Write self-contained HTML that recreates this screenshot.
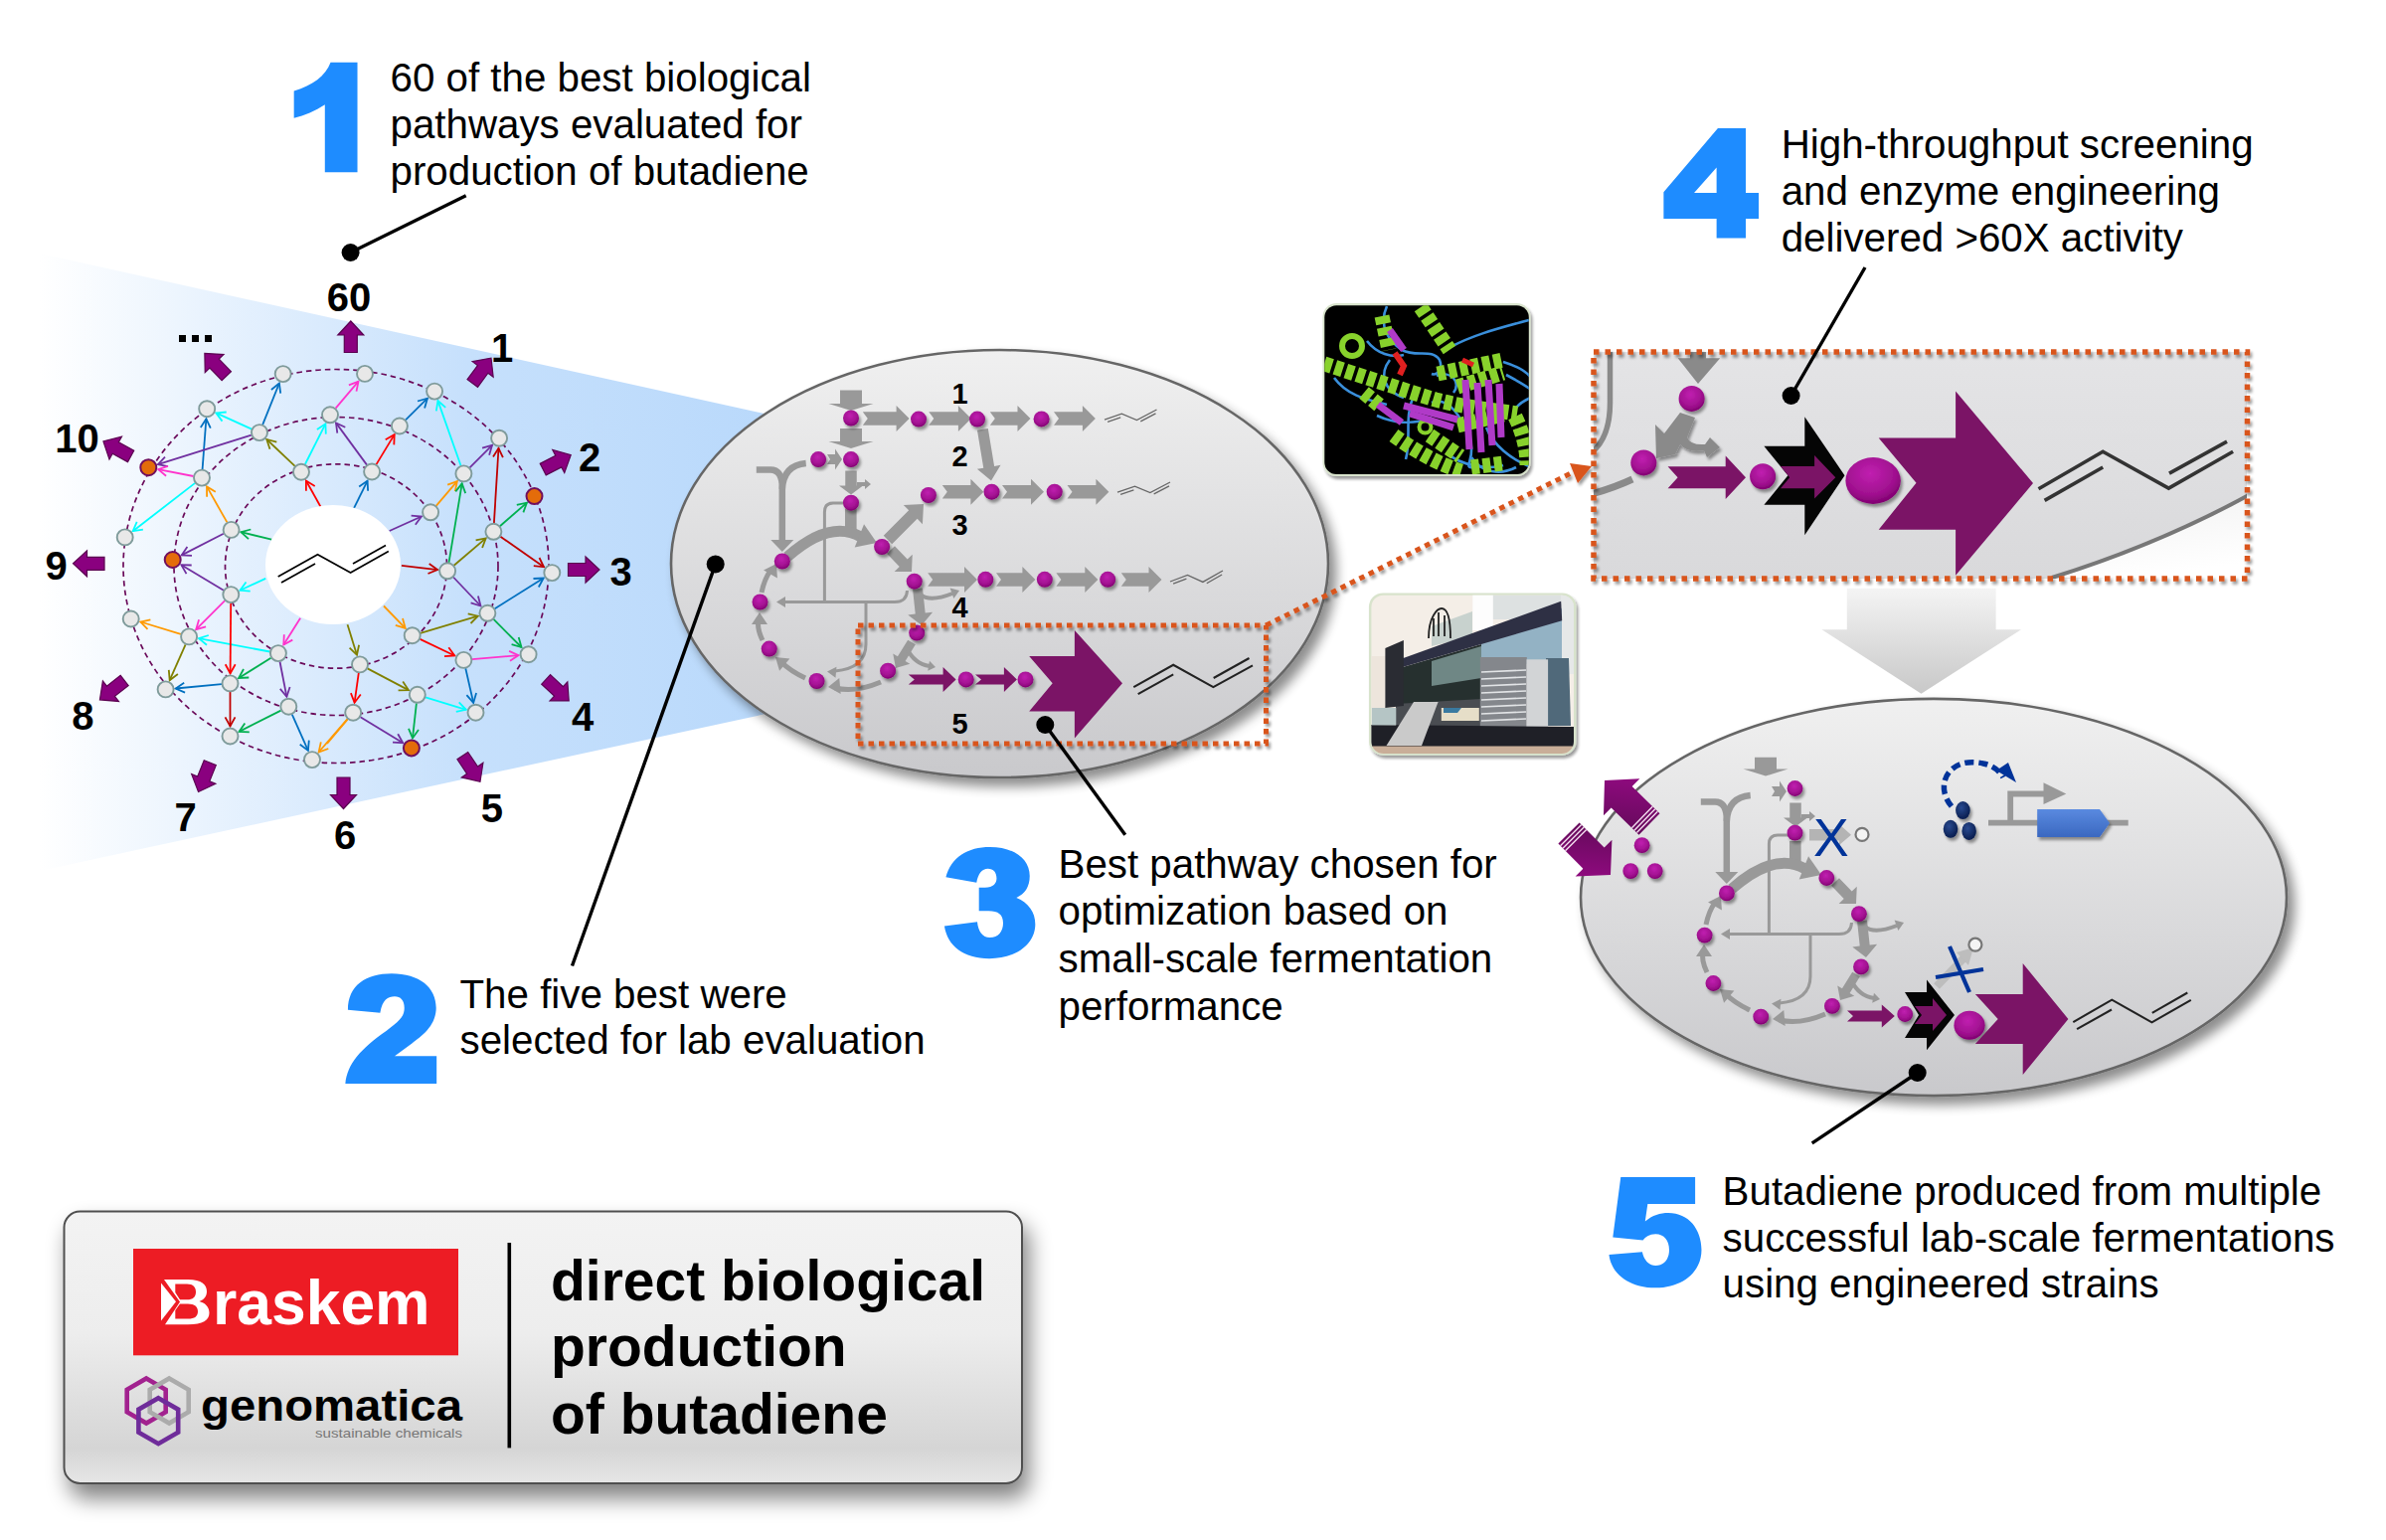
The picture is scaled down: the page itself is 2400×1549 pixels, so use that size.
<!DOCTYPE html>
<html><head><meta charset="utf-8"><style>
html,body{margin:0;padding:0;background:#fff;overflow:hidden;}
svg{display:block;}
.tx{font-family:"Liberation Sans",sans-serif;font-size:40.3px;fill:#000;}
.tt{font-family:"Liberation Sans",sans-serif;font-size:57px;font-weight:bold;fill:#000;}
.lb{font-family:"Liberation Sans",sans-serif;font-size:40px;font-weight:bold;fill:#000;}
.pl{font-family:"Liberation Sans",sans-serif;font-size:24px;font-weight:bold;fill:#000;}
</style></head><body>
<svg width="2400" height="1549" viewBox="0 0 2400 1549">
<defs>
<linearGradient id="wedge" x1="40" y1="0" x2="900" y2="0" gradientUnits="userSpaceOnUse">
<stop offset="0" stop-color="#FFFFFF"/><stop offset="0.5" stop-color="#C6E0FC"/><stop offset="1" stop-color="#B4D6FB"/></linearGradient>
<linearGradient id="ell" x1="0" y1="0" x2="0" y2="1">
<stop offset="0" stop-color="#F0F0F0"/><stop offset="1" stop-color="#C9C9CC"/></linearGradient>
<linearGradient id="box" x1="0" y1="0" x2="0" y2="1">
<stop offset="0" stop-color="#F3F3F3"/><stop offset="0.45" stop-color="#EDEDED"/><stop offset="0.87" stop-color="#D5D5D5"/><stop offset="1" stop-color="#E6E6E6"/></linearGradient>
<filter id="shd" x="-10%" y="-10%" width="130%" height="140%"><feGaussianBlur in="SourceAlpha" stdDeviation="6"/><feOffset dx="7" dy="8"/><feComponentTransfer><feFuncA type="linear" slope="0.45"/></feComponentTransfer><feMerge><feMergeNode/><feMergeNode in="SourceGraphic"/></feMerge></filter>
<filter id="dsh" x="-30%" y="-30%" width="160%" height="160%"><feGaussianBlur in="SourceAlpha" stdDeviation="1.5"/><feOffset dx="2" dy="3"/><feComponentTransfer><feFuncA type="linear" slope="0.4"/></feComponentTransfer><feMerge><feMergeNode/><feMergeNode in="SourceGraphic"/></feMerge></filter>
<filter id="shd2" x="-10%" y="-15%" width="130%" height="150%"><feGaussianBlur in="SourceAlpha" stdDeviation="11"/><feOffset dx="6" dy="14"/><feComponentTransfer><feFuncA type="linear" slope="0.5"/></feComponentTransfer><feMerge><feMergeNode/><feMergeNode in="SourceGraphic"/></feMerge></filter>
<radialGradient id="mag" cx="0.45" cy="0.35" r="0.65"><stop offset="0" stop-color="#C020B0"/><stop offset="0.7" stop-color="#A0108F"/><stop offset="1" stop-color="#800070"/></radialGradient>
</defs>
<polygon points="40,255 900,445 900,690 40,876" fill="url(#wedge)"/>
<ellipse cx="338" cy="569.5" rx="214" ry="198" fill="none" stroke="#6A0A5A" stroke-width="1.7" stroke-dasharray="5.5 4"/>
<ellipse cx="338" cy="569.5" rx="163" ry="150" fill="none" stroke="#6A0A5A" stroke-width="1.7" stroke-dasharray="5.5 4"/>
<ellipse cx="338" cy="569.5" rx="111.5" ry="102.7" fill="none" stroke="#6A0A5A" stroke-width="1.7" stroke-dasharray="5.5 4"/>
<line x1="264.2" y1="427.1" x2="280.9" y2="385.5" stroke="#0070C0" stroke-width="1.8"/>
<polyline points="282.2,395.7 280.9,385.5 272.9,392.0" fill="none" stroke="#0070C0" stroke-width="1.8"/>
<line x1="337.6" y1="410.7" x2="360.5" y2="383.6" stroke="#FF33CC" stroke-width="1.8"/>
<polyline points="358.5,393.7 360.5,383.6 350.9,387.3" fill="none" stroke="#FF33CC" stroke-width="1.8"/>
<line x1="408.0" y1="422.4" x2="429.9" y2="400.7" stroke="#0070C0" stroke-width="1.8"/>
<polyline points="427.1,410.6 429.9,400.7 420.0,403.5" fill="none" stroke="#0070C0" stroke-width="1.8"/>
<line x1="463.5" y1="468.3" x2="440.5" y2="403.1" stroke="#00FFFF" stroke-width="1.8"/>
<polyline points="448.2,409.9 440.5,403.1 438.8,413.3" fill="none" stroke="#00FFFF" stroke-width="1.8"/>
<line x1="253.2" y1="431.6" x2="217.4" y2="415.4" stroke="#00FFFF" stroke-width="1.8"/>
<polyline points="227.7,414.5 217.4,415.4 223.5,423.6" fill="none" stroke="#00FFFF" stroke-width="1.8"/>
<line x1="203.6" y1="472.0" x2="207.4" y2="421.3" stroke="#0070C0" stroke-width="1.8"/>
<polyline points="211.8,430.6 207.4,421.3 201.8,429.9" fill="none" stroke="#0070C0" stroke-width="1.8"/>
<line x1="369.0" y1="467.6" x2="338.0" y2="425.4" stroke="#7030A0" stroke-width="1.8"/>
<polyline points="347.3,429.7 338.0,425.4 339.3,435.6" fill="none" stroke="#7030A0" stroke-width="1.8"/>
<line x1="378.5" y1="467.1" x2="396.7" y2="437.1" stroke="#FF0000" stroke-width="1.8"/>
<polyline points="396.3,447.4 396.7,437.1 387.7,442.3" fill="none" stroke="#FF0000" stroke-width="1.8"/>
<line x1="296.7" y1="468.8" x2="268.3" y2="442.0" stroke="#808000" stroke-width="1.8"/>
<polyline points="278.3,444.6 268.3,442.0 271.5,451.8" fill="none" stroke="#808000" stroke-width="1.8"/>
<line x1="472.5" y1="470.3" x2="495.0" y2="447.8" stroke="#7030A0" stroke-width="1.8"/>
<polyline points="492.1,457.7 495.0,447.8 485.1,450.7" fill="none" stroke="#7030A0" stroke-width="1.8"/>
<line x1="496.9" y1="526.2" x2="501.5" y2="450.8" stroke="#C00000" stroke-width="1.8"/>
<polyline points="505.9,460.1 501.5,450.8 496.0,459.5" fill="none" stroke="#C00000" stroke-width="1.8"/>
<line x1="252.8" y1="437.7" x2="158.9" y2="467.2" stroke="#7030A0" stroke-width="1.8"/>
<polyline points="166.0,459.7 158.9,467.2 169.0,469.2" fill="none" stroke="#7030A0" stroke-width="1.8"/>
<line x1="194.6" y1="479.0" x2="159.2" y2="472.1" stroke="#FF33CC" stroke-width="1.8"/>
<polyline points="169.0,468.9 159.2,472.1 167.1,478.7" fill="none" stroke="#FF33CC" stroke-width="1.8"/>
<line x1="228.4" y1="525.4" x2="208.0" y2="489.4" stroke="#FF9900" stroke-width="1.8"/>
<polyline points="216.8,494.8 208.0,489.4 208.1,499.7" fill="none" stroke="#FF9900" stroke-width="1.8"/>
<line x1="306.9" y1="467.0" x2="327.4" y2="426.3" stroke="#00FFFF" stroke-width="1.8"/>
<polyline points="327.8,436.6 327.4,426.3 318.9,432.1" fill="none" stroke="#00FFFF" stroke-width="1.8"/>
<line x1="322.5" y1="509.7" x2="307.9" y2="483.5" stroke="#FF0000" stroke-width="1.8"/>
<polyline points="316.7,489.0 307.9,483.5 307.9,493.8" fill="none" stroke="#FF0000" stroke-width="1.8"/>
<line x1="356.0" y1="511.2" x2="369.6" y2="483.6" stroke="#0070C0" stroke-width="1.8"/>
<polyline points="370.1,493.8 369.6,483.6 361.2,489.4" fill="none" stroke="#0070C0" stroke-width="1.8"/>
<line x1="438.7" y1="508.8" x2="459.8" y2="484.1" stroke="#FF9900" stroke-width="1.8"/>
<polyline points="457.8,494.2 459.8,484.1 450.2,487.7" fill="none" stroke="#FF9900" stroke-width="1.8"/>
<line x1="451.5" y1="565.8" x2="464.7" y2="486.4" stroke="#00B050" stroke-width="1.8"/>
<polyline points="468.2,496.1 464.7,486.4 458.3,494.4" fill="none" stroke="#00B050" stroke-width="1.8"/>
<line x1="502.9" y1="529.2" x2="529.9" y2="505.7" stroke="#00B050" stroke-width="1.8"/>
<polyline points="526.4,515.4 529.9,505.7 519.8,507.9" fill="none" stroke="#00B050" stroke-width="1.8"/>
<line x1="391.7" y1="534.0" x2="423.9" y2="519.5" stroke="#7030A0" stroke-width="1.8"/>
<polyline points="417.8,527.7 423.9,519.5 413.6,518.6" fill="none" stroke="#7030A0" stroke-width="1.8"/>
<line x1="456.6" y1="568.7" x2="488.7" y2="541.4" stroke="#808000" stroke-width="1.8"/>
<polyline points="485.1,551.0 488.7,541.4 478.6,543.4" fill="none" stroke="#808000" stroke-width="1.8"/>
<line x1="196.2" y1="485.9" x2="133.7" y2="534.2" stroke="#00FFFF" stroke-width="1.8"/>
<polyline points="137.7,524.8 133.7,534.2 143.9,532.7" fill="none" stroke="#00FFFF" stroke-width="1.8"/>
<line x1="273.2" y1="542.6" x2="242.4" y2="535.2" stroke="#00B050" stroke-width="1.8"/>
<polyline points="252.3,532.5 242.4,535.2 250.0,542.2" fill="none" stroke="#00B050" stroke-width="1.8"/>
<line x1="224.9" y1="536.8" x2="182.7" y2="558.4" stroke="#7030A0" stroke-width="1.8"/>
<polyline points="188.4,549.9 182.7,558.4 193.0,558.8" fill="none" stroke="#7030A0" stroke-width="1.8"/>
<line x1="224.9" y1="593.7" x2="182.4" y2="568.2" stroke="#7030A0" stroke-width="1.8"/>
<polyline points="192.7,568.5 182.4,568.2 187.5,577.1" fill="none" stroke="#7030A0" stroke-width="1.8"/>
<line x1="403.9" y1="568.9" x2="440.1" y2="573.1" stroke="#C00000" stroke-width="1.8"/>
<polyline points="430.5,577.0 440.1,573.1 431.7,567.1" fill="none" stroke="#C00000" stroke-width="1.8"/>
<line x1="503.4" y1="539.7" x2="547.0" y2="570.3" stroke="#C00000" stroke-width="1.8"/>
<polyline points="536.8,569.2 547.0,570.3 542.5,561.0" fill="none" stroke="#C00000" stroke-width="1.8"/>
<line x1="497.7" y1="612.2" x2="546.7" y2="581.5" stroke="#0070C0" stroke-width="1.8"/>
<polyline points="541.8,590.5 546.7,581.5 536.5,582.0" fill="none" stroke="#0070C0" stroke-width="1.8"/>
<line x1="267.2" y1="581.9" x2="241.5" y2="593.8" stroke="#00FFFF" stroke-width="1.8"/>
<polyline points="247.5,585.5 241.5,593.8 251.7,594.6" fill="none" stroke="#00FFFF" stroke-width="1.8"/>
<line x1="456.0" y1="580.5" x2="483.5" y2="609.5" stroke="#7030A0" stroke-width="1.8"/>
<polyline points="473.6,606.4 483.5,609.5 480.9,599.5" fill="none" stroke="#7030A0" stroke-width="1.8"/>
<line x1="422.9" y1="636.8" x2="480.7" y2="619.7" stroke="#808000" stroke-width="1.8"/>
<polyline points="473.5,627.0 480.7,619.7 470.7,617.4" fill="none" stroke="#808000" stroke-width="1.8"/>
<line x1="181.9" y1="637.9" x2="141.4" y2="625.5" stroke="#FF9900" stroke-width="1.8"/>
<polyline points="151.4,623.3 141.4,625.5 148.5,632.9" fill="none" stroke="#FF9900" stroke-width="1.8"/>
<line x1="386.0" y1="609.5" x2="407.7" y2="631.9" stroke="#FF9900" stroke-width="1.8"/>
<polyline points="397.8,628.9 407.7,631.9 405.0,622.0" fill="none" stroke="#FF9900" stroke-width="1.8"/>
<line x1="226.2" y1="604.2" x2="197.2" y2="633.2" stroke="#FF33CC" stroke-width="1.8"/>
<polyline points="200.1,623.3 197.2,633.2 207.1,630.4" fill="none" stroke="#FF33CC" stroke-width="1.8"/>
<line x1="271.4" y1="655.5" x2="200.0" y2="642.2" stroke="#00FFFF" stroke-width="1.8"/>
<polyline points="209.8,639.0 200.0,642.2 208.0,648.8" fill="none" stroke="#00FFFF" stroke-width="1.8"/>
<line x1="302.1" y1="621.7" x2="285.3" y2="648.5" stroke="#FF33CC" stroke-width="1.8"/>
<polyline points="285.8,638.3 285.3,648.5 294.3,643.6" fill="none" stroke="#FF33CC" stroke-width="1.8"/>
<line x1="496.5" y1="622.9" x2="524.5" y2="651.0" stroke="#00B050" stroke-width="1.8"/>
<polyline points="514.6,648.2 524.5,651.0 521.7,641.1" fill="none" stroke="#00B050" stroke-width="1.8"/>
<line x1="475.0" y1="663.2" x2="521.5" y2="659.1" stroke="#FF33CC" stroke-width="1.8"/>
<polyline points="513.0,664.8 521.5,659.1 512.1,654.9" fill="none" stroke="#FF33CC" stroke-width="1.8"/>
<line x1="422.5" y1="642.9" x2="457.3" y2="659.5" stroke="#FF0000" stroke-width="1.8"/>
<polyline points="447.0,660.2 457.3,659.5 451.3,651.2" fill="none" stroke="#FF0000" stroke-width="1.8"/>
<line x1="349.5" y1="628.2" x2="359.0" y2="658.8" stroke="#808000" stroke-width="1.8"/>
<polyline points="351.6,651.6 359.0,658.8 361.1,648.7" fill="none" stroke="#808000" stroke-width="1.8"/>
<line x1="232.2" y1="606.7" x2="231.6" y2="677.3" stroke="#FF0000" stroke-width="1.8"/>
<polyline points="226.7,668.3 231.6,677.3 236.7,668.3" fill="none" stroke="#FF0000" stroke-width="1.8"/>
<line x1="272.6" y1="661.7" x2="240.1" y2="682.0" stroke="#00B050" stroke-width="1.8"/>
<polyline points="245.0,673.0 240.1,682.0 250.3,681.5" fill="none" stroke="#00B050" stroke-width="1.8"/>
<line x1="186.6" y1="648.3" x2="170.7" y2="684.2" stroke="#808000" stroke-width="1.8"/>
<polyline points="169.8,673.9 170.7,684.2 178.9,678.0" fill="none" stroke="#808000" stroke-width="1.8"/>
<line x1="222.9" y1="688.2" x2="176.7" y2="692.5" stroke="#0070C0" stroke-width="1.8"/>
<polyline points="185.2,686.7 176.7,692.5 186.1,696.6" fill="none" stroke="#0070C0" stroke-width="1.8"/>
<line x1="369.6" y1="672.4" x2="410.9" y2="694.1" stroke="#808000" stroke-width="1.8"/>
<polyline points="400.6,694.3 410.9,694.1 405.2,685.5" fill="none" stroke="#808000" stroke-width="1.8"/>
<line x1="281.5" y1="665.5" x2="288.4" y2="700.8" stroke="#7030A0" stroke-width="1.8"/>
<polyline points="281.8,692.9 288.4,700.8 291.6,691.0" fill="none" stroke="#7030A0" stroke-width="1.8"/>
<line x1="360.8" y1="676.9" x2="356.6" y2="706.7" stroke="#FF0000" stroke-width="1.8"/>
<polyline points="352.9,697.1 356.6,706.7 362.8,698.5" fill="none" stroke="#FF0000" stroke-width="1.8"/>
<line x1="468.3" y1="672.3" x2="476.2" y2="706.9" stroke="#0070C0" stroke-width="1.8"/>
<polyline points="469.4,699.2 476.2,706.9 479.1,697.0" fill="none" stroke="#0070C0" stroke-width="1.8"/>
<line x1="428.0" y1="701.3" x2="468.8" y2="713.8" stroke="#00FFFF" stroke-width="1.8"/>
<polyline points="458.8,715.9 468.8,713.8 461.7,706.3" fill="none" stroke="#00FFFF" stroke-width="1.8"/>
<line x1="231.5" y1="696.0" x2="231.5" y2="730.4" stroke="#C00000" stroke-width="1.8"/>
<polyline points="226.5,721.4 231.5,730.4 236.5,721.4" fill="none" stroke="#C00000" stroke-width="1.8"/>
<line x1="282.6" y1="714.6" x2="240.5" y2="735.9" stroke="#00B050" stroke-width="1.8"/>
<polyline points="246.3,727.4 240.5,735.9 250.8,736.3" fill="none" stroke="#00B050" stroke-width="1.8"/>
<line x1="293.8" y1="718.6" x2="309.9" y2="754.9" stroke="#0070C0" stroke-width="1.8"/>
<polyline points="301.7,748.7 309.9,754.9 310.8,744.6" fill="none" stroke="#0070C0" stroke-width="1.8"/>
<line x1="349.6" y1="723.2" x2="320.6" y2="756.5" stroke="#FF9900" stroke-width="1.8"/>
<polyline points="322.8,746.4 320.6,756.5 330.3,753.0" fill="none" stroke="#FF9900" stroke-width="1.8"/>
<line x1="418.9" y1="707.3" x2="415.0" y2="742.4" stroke="#00B050" stroke-width="1.8"/>
<polyline points="411.0,732.9 415.0,742.4 421.0,734.0" fill="none" stroke="#00B050" stroke-width="1.8"/>
<line x1="362.5" y1="721.2" x2="405.3" y2="747.2" stroke="#7030A0" stroke-width="1.8"/>
<polyline points="395.0,746.7 405.3,747.2 400.2,738.2" fill="none" stroke="#7030A0" stroke-width="1.8"/>
<line x1="349.7" y1="723.3" x2="329.0" y2="748.0" stroke="#FF9900" stroke-width="1.8"/>
<ellipse cx="335" cy="568" rx="68" ry="60" fill="#fff"/>
<g stroke="#000" stroke-width="1.7" fill="none"><polyline points="279.7,580 319.5,557.7 352.6,576 390.8,554.5"/><line x1="283" y1="586" x2="317" y2="567"/><line x1="355" y1="567" x2="388" y2="548.5"/></g>
<circle cx="284.7" cy="376.1" r="8.0" fill="#E8E8E8" stroke="#7F9B9B" stroke-width="1.9"/>
<circle cx="367.0" cy="375.9" r="8.0" fill="#E8E8E8" stroke="#7F9B9B" stroke-width="1.9"/>
<circle cx="437.1" cy="393.6" r="8.0" fill="#E8E8E8" stroke="#7F9B9B" stroke-width="1.9"/>
<circle cx="208.2" cy="411.2" r="8.0" fill="#E8E8E8" stroke="#7F9B9B" stroke-width="1.9"/>
<circle cx="332.0" cy="417.3" r="8.0" fill="#E8E8E8" stroke="#7F9B9B" stroke-width="1.9"/>
<circle cx="401.9" cy="428.5" r="8.0" fill="#E8E8E8" stroke="#7F9B9B" stroke-width="1.9"/>
<circle cx="261.0" cy="435.1" r="8.0" fill="#E8E8E8" stroke="#7F9B9B" stroke-width="1.9"/>
<circle cx="502.1" cy="440.7" r="8.0" fill="#E8E8E8" stroke="#7F9B9B" stroke-width="1.9"/>
<circle cx="149.3" cy="470.2" r="8.0" fill="#E46C0A" stroke="#70105E" stroke-width="2"/>
<circle cx="203.0" cy="480.6" r="8.0" fill="#E8E8E8" stroke="#7F9B9B" stroke-width="1.9"/>
<circle cx="303.0" cy="474.7" r="8.0" fill="#E8E8E8" stroke="#7F9B9B" stroke-width="1.9"/>
<circle cx="374.1" cy="474.5" r="8.0" fill="#E8E8E8" stroke="#7F9B9B" stroke-width="1.9"/>
<circle cx="466.4" cy="476.4" r="8.0" fill="#E8E8E8" stroke="#7F9B9B" stroke-width="1.9"/>
<circle cx="537.5" cy="499.1" r="8.0" fill="#E46C0A" stroke="#70105E" stroke-width="2"/>
<circle cx="433.1" cy="515.3" r="8.0" fill="#E8E8E8" stroke="#7F9B9B" stroke-width="1.9"/>
<circle cx="496.4" cy="534.8" r="8.0" fill="#E8E8E8" stroke="#7F9B9B" stroke-width="1.9"/>
<circle cx="125.7" cy="540.4" r="8.0" fill="#E8E8E8" stroke="#7F9B9B" stroke-width="1.9"/>
<circle cx="232.6" cy="532.9" r="8.0" fill="#E8E8E8" stroke="#7F9B9B" stroke-width="1.9"/>
<circle cx="173.7" cy="563.0" r="8.0" fill="#E46C0A" stroke="#70105E" stroke-width="2"/>
<circle cx="450.1" cy="574.3" r="8.0" fill="#E8E8E8" stroke="#7F9B9B" stroke-width="1.9"/>
<circle cx="555.3" cy="576.1" r="8.0" fill="#E8E8E8" stroke="#7F9B9B" stroke-width="1.9"/>
<circle cx="232.3" cy="598.1" r="8.0" fill="#E8E8E8" stroke="#7F9B9B" stroke-width="1.9"/>
<circle cx="490.4" cy="616.8" r="8.0" fill="#E8E8E8" stroke="#7F9B9B" stroke-width="1.9"/>
<circle cx="131.7" cy="622.5" r="8.0" fill="#E8E8E8" stroke="#7F9B9B" stroke-width="1.9"/>
<circle cx="414.7" cy="639.2" r="8.0" fill="#E8E8E8" stroke="#7F9B9B" stroke-width="1.9"/>
<circle cx="190.1" cy="640.4" r="8.0" fill="#E8E8E8" stroke="#7F9B9B" stroke-width="1.9"/>
<circle cx="279.9" cy="657.1" r="8.0" fill="#E8E8E8" stroke="#7F9B9B" stroke-width="1.9"/>
<circle cx="531.6" cy="658.2" r="8.0" fill="#E8E8E8" stroke="#7F9B9B" stroke-width="1.9"/>
<circle cx="466.4" cy="663.9" r="8.0" fill="#E8E8E8" stroke="#7F9B9B" stroke-width="1.9"/>
<circle cx="362.0" cy="668.4" r="8.0" fill="#E8E8E8" stroke="#7F9B9B" stroke-width="1.9"/>
<circle cx="231.5" cy="687.4" r="8.0" fill="#E8E8E8" stroke="#7F9B9B" stroke-width="1.9"/>
<circle cx="166.6" cy="693.4" r="8.0" fill="#E8E8E8" stroke="#7F9B9B" stroke-width="1.9"/>
<circle cx="419.8" cy="698.8" r="8.0" fill="#E8E8E8" stroke="#7F9B9B" stroke-width="1.9"/>
<circle cx="290.3" cy="710.7" r="8.0" fill="#E8E8E8" stroke="#7F9B9B" stroke-width="1.9"/>
<circle cx="355.2" cy="716.7" r="8.0" fill="#E8E8E8" stroke="#7F9B9B" stroke-width="1.9"/>
<circle cx="478.5" cy="716.7" r="8.0" fill="#E8E8E8" stroke="#7F9B9B" stroke-width="1.9"/>
<circle cx="231.5" cy="740.5" r="8.0" fill="#E8E8E8" stroke="#7F9B9B" stroke-width="1.9"/>
<circle cx="314.0" cy="764.1" r="8.0" fill="#E8E8E8" stroke="#7F9B9B" stroke-width="1.9"/>
<circle cx="413.9" cy="752.4" r="8.0" fill="#E46C0A" stroke="#70105E" stroke-width="2"/>
<path transform="translate(352.8,339) rotate(-90)" d="M-15.5,-6.5 L2,-6.5 L2,-13 L16,0 L2,13 L2,6.5 L-15.5,6.5 Z" fill="#8A007F" stroke="#5A0050" stroke-width="1.2"/>
<path transform="translate(484.5,373) rotate(-53.6)" d="M-15.5,-6.5 L2,-6.5 L2,-13 L16,0 L2,13 L2,6.5 L-15.5,6.5 Z" fill="#8A007F" stroke="#5A0050" stroke-width="1.2"/>
<path transform="translate(217,367) rotate(-134)" d="M-15.5,-6.5 L2,-6.5 L2,-13 L16,0 L2,13 L2,6.5 L-15.5,6.5 Z" fill="#8A007F" stroke="#5A0050" stroke-width="1.2"/>
<path transform="translate(560,465) rotate(-27.4)" d="M-15.5,-6.5 L2,-6.5 L2,-13 L16,0 L2,13 L2,6.5 L-15.5,6.5 Z" fill="#8A007F" stroke="#5A0050" stroke-width="1.2"/>
<path transform="translate(587,573) rotate(0)" d="M-15.5,-6.5 L2,-6.5 L2,-13 L16,0 L2,13 L2,6.5 L-15.5,6.5 Z" fill="#8A007F" stroke="#5A0050" stroke-width="1.2"/>
<path transform="translate(560.5,694) rotate(43)" d="M-15.5,-6.5 L2,-6.5 L2,-13 L16,0 L2,13 L2,6.5 L-15.5,6.5 Z" fill="#8A007F" stroke="#5A0050" stroke-width="1.2"/>
<path transform="translate(474,773) rotate(56)" d="M-15.5,-6.5 L2,-6.5 L2,-13 L16,0 L2,13 L2,6.5 L-15.5,6.5 Z" fill="#8A007F" stroke="#5A0050" stroke-width="1.2"/>
<path transform="translate(345.5,797.5) rotate(90)" d="M-15.5,-6.5 L2,-6.5 L2,-13 L16,0 L2,13 L2,6.5 L-15.5,6.5 Z" fill="#8A007F" stroke="#5A0050" stroke-width="1.2"/>
<path transform="translate(205.5,781.6) rotate(111.9)" d="M-15.5,-6.5 L2,-6.5 L2,-13 L16,0 L2,13 L2,6.5 L-15.5,6.5 Z" fill="#8A007F" stroke="#5A0050" stroke-width="1.2"/>
<path transform="translate(113,694) rotate(141.9)" d="M-15.5,-6.5 L2,-6.5 L2,-13 L16,0 L2,13 L2,6.5 L-15.5,6.5 Z" fill="#8A007F" stroke="#5A0050" stroke-width="1.2"/>
<path transform="translate(89.5,566.8) rotate(180)" d="M-15.5,-6.5 L2,-6.5 L2,-13 L16,0 L2,13 L2,6.5 L-15.5,6.5 Z" fill="#8A007F" stroke="#5A0050" stroke-width="1.2"/>
<path transform="translate(118,451.5) rotate(-151.4)" d="M-15.5,-6.5 L2,-6.5 L2,-13 L16,0 L2,13 L2,6.5 L-15.5,6.5 Z" fill="#8A007F" stroke="#5A0050" stroke-width="1.2"/>
<text x="351" y="313.0" text-anchor="middle" class="lb">60</text>
<text x="505" y="364.1" text-anchor="middle" class="lb">1</text>
<text x="593" y="474.1" text-anchor="middle" class="lb">2</text>
<text x="624.5" y="588.5" text-anchor="middle" class="lb">3</text>
<text x="586" y="735.3" text-anchor="middle" class="lb">4</text>
<text x="494.8" y="826.5" text-anchor="middle" class="lb">5</text>
<text x="347" y="853.9" text-anchor="middle" class="lb">6</text>
<text x="186.6" y="835.5" text-anchor="middle" class="lb">7</text>
<text x="83.4" y="734.1" text-anchor="middle" class="lb">8</text>
<text x="56.5" y="583.0" text-anchor="middle" class="lb">9</text>
<text x="77.5" y="455.3" text-anchor="middle" class="lb">10</text>
<g fill="#000"><rect x="180" y="337" width="7" height="7"/><rect x="193" y="337" width="7" height="7"/><rect x="206" y="337" width="7" height="7"/></g>
<ellipse cx="1005.5" cy="567" rx="330.5" ry="215" fill="url(#ell)" stroke="#666" stroke-width="2.6" filter="url(#shd)"/>
<g><g fill="none" stroke="#999999" stroke-width="3"><path d="M829.4,605.5 L829.4,515 Q829.4,506 838,506 L849,506"/><path d="M788,605.5 L900,605.5 Q912,605.5 912.5,594"/><path d="M871,605.5 L871,648 Q871,672 840,675"/></g><path transform="translate(781.0,605.5) rotate(180.0)" d="M0,0 L-9,-5.5 L-9,5.5 Z" fill="#999999"/><path transform="translate(832.0,675.5) rotate(185.0)" d="M0,0 L-9,-5.5 L-9,5.5 Z" fill="#999999"/><g fill="none" stroke="#999999" stroke-width="6.5"><path d="M760.8,472.5 L775,472.5 Q786.8,472.5 786.8,490 L786.8,546"/><path d="M786.8,492 Q788,468 810.7,466"/></g><path transform="translate(786.8,555.0) rotate(90.0)" d="M0,0 L-12,-11.5 L-12,11.5 Z" fill="#999999"/><path transform="translate(832.0,462.0) rotate(0.00)" d="M0,-5.0 L8.0,-5.0 L8.0,-10.5 L15.0,0 L8.0,10.5 L8.0,5.0 L0,5.0 L3,0 Z" fill="#999999" /><path transform="translate(856.0,473.5) rotate(90.00)" d="M0,-5.75 L14.899999999999977,-5.75 L14.899999999999977,-12.0 L23.899999999999977,0 L14.899999999999977,12.0 L14.899999999999977,5.75 L0,5.75 L0,0 Z" fill="#999999" /><path transform="translate(862.0,487.0) rotate(0.00)" d="M0,-2.0 L8.0,-2.0 L8.0,-5.0 L14.0,0 L8.0,5.0 L8.0,2.0 L0,2.0 L0,0 Z" fill="#999999" /><rect x="850" y="512" width="11.6" height="22" fill="#999999"/><path d="M792,560 Q835,522 866,540" fill="none" stroke="#999999" stroke-width="11"/><path transform="translate(882.0,546.0) rotate(22.0)" d="M0,0 L-19,-12.5 L-19,12.5 Z" fill="#999999"/><g fill="none" stroke="#999999" stroke-width="5"><path d="M766,596 Q769,582 775,574"/><path d="M767,644 Q761,632 763,622"/><path d="M810,682 Q795,675 786,666"/><path d="M886,686 Q860,697 840,692"/></g><path transform="translate(781.0,567.0) rotate(-60.0)" d="M0,0 L-12,-8.0 L-12,8.0 Z" fill="#999999"/><path transform="translate(764.0,616.0) rotate(-90.0)" d="M0,0 L-12,-8.0 L-12,8.0 Z" fill="#999999"/><path transform="translate(780.0,661.0) rotate(-140.0)" d="M0,0 L-12,-8.0 L-12,8.0 Z" fill="#999999"/><path transform="translate(833.0,691.0) rotate(175.0)" d="M0,0 L-12,-8.0 L-12,8.0 Z" fill="#999999"/><path transform="translate(917.0,646.0) rotate(121.61)" d="M0,-4.5 L19.528675044947494,-4.5 L19.528675044947494,-10.0 L30.528675044947494,0 L19.528675044947494,10.0 L19.528675044947494,4.5 L0,4.5 L0,0 Z" fill="#999999" /><path d="M912,652 Q920,668 935,670" fill="none" stroke="#999999" stroke-width="4"/><path transform="translate(941.0,671.0) rotate(10.0)" d="M0,0 L-7,-5.0 L-7,5.0 Z" fill="#999999"/><path transform="translate(923.0,592.0) rotate(83.83)" d="M0,-5.0 L25.21558813185679,-5.0 L25.21558813185679,-12.5 L37.21558813185679,0 L25.21558813185679,12.5 L25.21558813185679,5.0 L0,5.0 L0,0 Z" fill="#999999" /><path d="M926,598 Q935,606 958,597" fill="none" stroke="#999999" stroke-width="4"/><path transform="translate(965.0,594.0) rotate(-20.0)" d="M0,0 L-8,-5.5 L-8,5.5 Z" fill="#999999"/><path transform="translate(896.0,553.0) rotate(46.33)" d="M0,-5.5 L18.4138126514911,-5.5 L18.4138126514911,-12.5 L30.4138126514911,0 L18.4138126514911,12.5 L18.4138126514911,5.5 L0,5.5 L0,0 Z" fill="#999999" /><path transform="translate(893.0,543.0) rotate(-45.00)" d="M0,-6.0 L35.91168824543142,-6.0 L35.91168824543142,-13.5 L50.91168824543142,0 L35.91168824543142,13.5 L35.91168824543142,6.0 L0,6.0 L0,0 Z" fill="#999999" /><path transform="translate(856.0,392.5) rotate(90.00)" d="M0,-11.0 L13.5,-11.0 L13.5,-22.5 L20.5,0 L13.5,22.5 L13.5,11.0 L0,11.0 L0,0 Z" fill="#999999" /><path transform="translate(856.0,431.0) rotate(90.00)" d="M0,-11.0 L13.0,-11.0 L13.0,-22.5 L20.0,0 L13.0,22.5 L13.0,11.0 L0,11.0 L0,0 Z" fill="#999999" /><path transform="translate(867.8,421.0) rotate(0.00)" d="M0,-6.75 L33.80000000000007,-6.75 L33.80000000000007,-13.0 L46.80000000000007,0 L33.80000000000007,13.0 L33.80000000000007,6.75 L0,6.75 L5,0 Z" fill="#999999" /><path transform="translate(934.3,421.0) rotate(0.00)" d="M0,-6.75 L29.600000000000023,-6.75 L29.600000000000023,-13.0 L42.60000000000002,0 L29.600000000000023,13.0 L29.600000000000023,6.75 L0,6.75 L5,0 Z" fill="#999999" /><path transform="translate(995.8,421.0) rotate(0.00)" d="M0,-6.75 L27.700000000000045,-6.75 L27.700000000000045,-13.0 L40.700000000000045,0 L27.700000000000045,13.0 L27.700000000000045,6.75 L0,6.75 L5,0 Z" fill="#999999" /><path transform="translate(1060.0,421.0) rotate(0.00)" d="M0,-6.75 L28.90000000000009,-6.75 L28.90000000000009,-13.0 L41.90000000000009,0 L28.90000000000009,13.0 L28.90000000000009,6.75 L0,6.75 L5,0 Z" fill="#999999" /><path transform="translate(988.4,431.8) rotate(80.57)" d="M0,-5.5 L38.509046839568526,-5.5 L38.509046839568526,-12.0 L52.509046839568526,0 L38.509046839568526,12.0 L38.509046839568526,5.5 L0,5.5 L0,0 Z" fill="#999999" /><path transform="translate(947.8,494.7) rotate(0.00)" d="M0,-6.75 L28.600000000000023,-6.75 L28.600000000000023,-13.0 L41.60000000000002,0 L28.600000000000023,13.0 L28.600000000000023,6.75 L0,6.75 L5,0 Z" fill="#999999" /><path transform="translate(1008.0,494.7) rotate(0.00)" d="M0,-6.75 L29.0,-6.75 L29.0,-13.0 L42.0,0 L29.0,13.0 L29.0,6.75 L0,6.75 L5,0 Z" fill="#999999" /><path transform="translate(1073.5,494.7) rotate(0.00)" d="M0,-6.75 L28.90000000000009,-6.75 L28.90000000000009,-13.0 L41.90000000000009,0 L28.90000000000009,13.0 L28.90000000000009,6.75 L0,6.75 L5,0 Z" fill="#999999" /><path transform="translate(933.2,583.0) rotate(0.00)" d="M0,-6.75 L36.799999999999955,-6.75 L36.799999999999955,-13.0 L49.799999999999955,0 L36.799999999999955,13.0 L36.799999999999955,6.75 L0,6.75 L5,0 Z" fill="#999999" /><path transform="translate(1002.0,583.0) rotate(0.00)" d="M0,-6.75 L26.40000000000009,-6.75 L26.40000000000009,-13.0 L39.40000000000009,0 L26.40000000000009,13.0 L26.40000000000009,6.75 L0,6.75 L5,0 Z" fill="#999999" /><path transform="translate(1062.4,583.0) rotate(0.00)" d="M0,-6.75 L28.899999999999864,-6.75 L28.899999999999864,-13.0 L41.899999999999864,0 L28.899999999999864,13.0 L28.899999999999864,6.75 L0,6.75 L5,0 Z" fill="#999999" /><path transform="translate(1127.8,583.0) rotate(0.00)" d="M0,-6.75 L27.700000000000045,-6.75 L27.700000000000045,-13.0 L40.700000000000045,0 L27.700000000000045,13.0 L27.700000000000045,6.75 L0,6.75 L5,0 Z" fill="#999999" /></g>
<polyline points="1111.0,422.2 1128.3,416.2 1143.5,422.6 1163.5,412.0" fill="none" stroke="#666" stroke-width="1.3"/><line x1="1114.1" y1="424.3" x2="1127.2" y2="419.8" stroke="#666" stroke-width="1.3"/><line x1="1147.3" y1="423.9" x2="1162.5" y2="415.9" stroke="#666" stroke-width="1.3"/>
<polyline points="1124.0,495.2 1141.5,489.2 1156.9,495.6 1177.0,485.0" fill="none" stroke="#666" stroke-width="1.3"/><line x1="1127.1" y1="497.3" x2="1140.4" y2="492.8" stroke="#666" stroke-width="1.3"/><line x1="1160.7" y1="496.9" x2="1176.0" y2="488.9" stroke="#666" stroke-width="1.3"/>
<polyline points="1177.0,585.0 1194.5,578.5 1209.9,585.4 1230.0,574.0" fill="none" stroke="#666" stroke-width="1.3"/><line x1="1180.1" y1="587.1" x2="1193.4" y2="582.1" stroke="#666" stroke-width="1.3"/><line x1="1213.8" y1="586.7" x2="1229.1" y2="578.0" stroke="#666" stroke-width="1.3"/>
<path transform="translate(913.8,683.4) rotate(0.00)" d="M0,-5.0 L34.80000000000007,-5.0 L34.80000000000007,-12.5 L47.80000000000007,0 L34.80000000000007,12.5 L34.80000000000007,5.0 L0,5.0 L6,0 Z" fill="#7B1466" />
<path transform="translate(981.0,683.4) rotate(0.00)" d="M0,-5.0 L28.899999999999977,-5.0 L28.899999999999977,-12.5 L41.89999999999998,0 L28.899999999999977,12.5 L28.899999999999977,5.0 L0,5.0 L6,0 Z" fill="#7B1466" />
<path d="M1035.2,660 L1080.9,660 L1080.9,634 L1129,687.2 L1080.9,742.6 L1080.9,715.5 L1035.2,715.5 L1058.7,687.2 Z" fill="#7B1466"/>
<g stroke="#222" stroke-width="2.1" fill="none"><polyline points="1140.3,691.1 1180.2,668.8 1220.4,691.1 1260,669.4"/><line x1="1144.7" y1="698.1" x2="1180.2" y2="678.4"/><line x1="1220.7" y1="682" x2="1256.5" y2="662"/></g>
<circle cx="856" cy="420.5" r="8" fill="url(#mag)" filter="url(#dsh)"/>
<circle cx="924" cy="421.6" r="8" fill="url(#mag)" filter="url(#dsh)"/>
<circle cx="983" cy="421.6" r="8" fill="url(#mag)" filter="url(#dsh)"/>
<circle cx="1047.6" cy="421.4" r="8" fill="url(#mag)" filter="url(#dsh)"/>
<circle cx="823.1" cy="462.1" r="8" fill="url(#mag)" filter="url(#dsh)"/>
<circle cx="856" cy="462.1" r="8" fill="url(#mag)" filter="url(#dsh)"/>
<circle cx="856" cy="505.7" r="8" fill="url(#mag)" filter="url(#dsh)"/>
<circle cx="933.9" cy="498" r="8" fill="url(#mag)" filter="url(#dsh)"/>
<circle cx="997.5" cy="494.7" r="8" fill="url(#mag)" filter="url(#dsh)"/>
<circle cx="1060.7" cy="494.7" r="8" fill="url(#mag)" filter="url(#dsh)"/>
<circle cx="786.8" cy="564.5" r="8" fill="url(#mag)" filter="url(#dsh)"/>
<circle cx="887.1" cy="550" r="8" fill="url(#mag)" filter="url(#dsh)"/>
<circle cx="919.7" cy="584.7" r="8" fill="url(#mag)" filter="url(#dsh)"/>
<circle cx="991.3" cy="582.8" r="8" fill="url(#mag)" filter="url(#dsh)"/>
<circle cx="1050.8" cy="582.8" r="8" fill="url(#mag)" filter="url(#dsh)"/>
<circle cx="1114.2" cy="582.8" r="8" fill="url(#mag)" filter="url(#dsh)"/>
<circle cx="764.5" cy="605.5" r="8" fill="url(#mag)" filter="url(#dsh)"/>
<circle cx="773.7" cy="652.6" r="8" fill="url(#mag)" filter="url(#dsh)"/>
<circle cx="821.5" cy="685" r="8" fill="url(#mag)" filter="url(#dsh)"/>
<circle cx="893.1" cy="674.7" r="8" fill="url(#mag)" filter="url(#dsh)"/>
<circle cx="922.2" cy="636.6" r="8" fill="url(#mag)" filter="url(#dsh)"/>
<circle cx="971.7" cy="683.4" r="8" fill="url(#mag)" filter="url(#dsh)"/>
<circle cx="1031.5" cy="683.4" r="8" fill="url(#mag)" filter="url(#dsh)"/>
<text x="965.5" y="406" text-anchor="middle" font-family="Liberation Sans" font-weight="bold" font-size="29">1</text>
<text x="965.5" y="468.8" text-anchor="middle" font-family="Liberation Sans" font-weight="bold" font-size="29">2</text>
<text x="965.5" y="537.5" text-anchor="middle" font-family="Liberation Sans" font-weight="bold" font-size="29">3</text>
<text x="965.5" y="621" text-anchor="middle" font-family="Liberation Sans" font-weight="bold" font-size="29">4</text>
<text x="965.5" y="737.6" text-anchor="middle" font-family="Liberation Sans" font-weight="bold" font-size="29">5</text>
<g filter="url(#dsh)"><rect x="863" y="629" width="410.5" height="119" fill="none" stroke="#D9541E" stroke-width="5" stroke-dasharray="5.5 5"/><line x1="1273.5" y1="629" x2="1582" y2="475" stroke="#D9541E" stroke-width="5" stroke-dasharray="5.5 5"/><path d="M1601,469 L1579,466 L1587,486 Z" fill="#D9541E"/></g>
<defs><clipPath id="b4"><rect x="1603" y="354" width="657" height="228"/></clipPath><linearGradient id="b4g" x1="0" y1="0" x2="0" y2="1"><stop offset="0" stop-color="#E4E4E6"/><stop offset="1" stop-color="#D9D9DB"/></linearGradient></defs>
<rect x="1603" y="354" width="657" height="228" fill="url(#b4g)"/>
<g clip-path="url(#b4)">
<path d="M1619.5,354 L1619.5,405 Q1619.5,440 1601,455" fill="none" stroke="#8A8A8A" stroke-width="5.5"/>
<path d="M1601,497 Q1625,490 1642,482" fill="none" stroke="#8A8A8A" stroke-width="7"/>
<defs><linearGradient id="wsh" x1="0" y1="0" x2="0.3" y2="1"><stop offset="0" stop-color="#888"/><stop offset="0.35" stop-color="#F6F6F6"/><stop offset="1" stop-color="#FFF"/></linearGradient></defs>
<path d="M2064,581 Q2170,548 2262,498 L2262,584 Z" fill="url(#wsh)"/>
<path d="M2064,581 Q2170,548 2262,498" fill="none" stroke="#777" stroke-width="4"/>
</g>
<rect x="1700" y="354" width="16" height="8" fill="#8A8A8A"/><path d="M1687.7,360.3 L1730.2,360.3 L1708,386 Z" fill="#8A8A8A"/>
<path d="M1690,415 L1705,420 L1697,440 Q1700,448 1715,447 L1720,440 L1730,450 L1717,460 L1714,453 Q1698,456 1690,447 L1685,457 L1700,454 L1666,461 L1665,427 L1674,436 Z" fill="#8A8A8A" filter="url(#dsh)"/>
<path transform="translate(1677.6,480.2) rotate(0.00)" d="M0,-11.0 L58.100000000000094,-11.0 L58.100000000000094,-21.7 L78.40000000000009,0 L58.100000000000094,21.7 L58.100000000000094,11.0 L0,11.0 L10,0 Z" fill="#7B1466" />
<path d="M1774.4,448.8 L1815.3,448.8 L1815.3,419.3 L1855.5,478.3 L1815.3,538.2 L1815.3,507.8 L1774.4,507.8 L1798.4,478.3 Z" fill="#050505"/>
<path d="M1791,469.1 L1825.1,469.1 L1825.1,458 L1846.3,480.2 L1825.1,501.4 L1825.1,491.2 L1791,491.2 L1800.2,480.2 Z" fill="#7B1466"/>
<path d="M1889.7,440.5 L1967.1,440.5 L1967.1,393.5 L2045,486 L1967.1,578.8 L1967.1,532.7 L1889.7,532.7 L1927.5,485.7 Z" fill="#7B1466"/>
<g stroke="#333" stroke-width="3.6" fill="none"><polyline points="2050.5,491.8 2115.2,454.3 2181.4,491.1 2246.1,454.3"/><line x1="2056.6" y1="503.4" x2="2115.2" y2="470"/><line x1="2182" y1="476.1" x2="2240" y2="444.1"/></g>
<circle cx="1701.6" cy="400.9" r="13" fill="url(#mag)" filter="url(#dsh)"/>
<circle cx="1653.3" cy="465.4" r="13" fill="url(#mag)" filter="url(#dsh)"/>
<circle cx="1773.1" cy="479.2" r="13" fill="url(#mag)" filter="url(#dsh)"/>
<ellipse cx="1884.1" cy="483.5" rx="27.7" ry="23.4" fill="url(#mag)" filter="url(#dsh)"/>
<rect x="1603" y="354" width="657.5" height="228" fill="none" stroke="#D9541E" stroke-width="5.5" stroke-dasharray="5.5 6" filter="url(#dsh)"/>
<defs><linearGradient id="gda" x1="0" y1="0" x2="0" y2="1"><stop offset="0" stop-color="#F4F4F4"/><stop offset="1" stop-color="#C8C8C8"/></linearGradient></defs>
<path d="M1857.8,591.7 L2007.6,591.7 L2007.6,633.2 L2033,633.2 L1932.5,697.8 L1832.5,633.2 L1857.8,633.2 Z" fill="url(#gda)"/>
<defs><clipPath id="pc"><rect x="1332.3" y="307.3" width="205.5" height="169.7" rx="12"/></clipPath><clipPath id="rc"><rect x="1379.4" y="598.8" width="203.6" height="159.2" rx="12"/></clipPath></defs>
<rect x="1330.5" y="305" width="209" height="174" rx="14" fill="#D8E3CC" filter="url(#dsh)"/>
<rect x="1332.3" y="307.3" width="205.5" height="169.7" rx="12" fill="#000"/>
<g clip-path="url(#pc)" fill="none" stroke-linecap="butt">
<g stroke="#3A8FDB" stroke-width="2.6"><path d="M1459,349 C1480,338 1500,332 1538,322"/><path d="M1395,308 C1385,330 1400,345 1410,352 C1425,360 1440,350 1448,362 C1452,372 1445,378 1440,376"/><path d="M1375,343 C1385,356 1400,360 1412,357"/><path d="M1398,362 C1388,375 1390,392 1412,400"/><path d="M1342,380 C1355,398 1375,402 1395,407"/><path d="M1422,398 C1412,420 1420,440 1414,462"/><path d="M1440,405 C1458,398 1470,420 1478,440 C1486,460 1470,472 1482,470"/><path d="M1512,364 C1525,368 1535,373 1540,380"/><path d="M1515,377 C1528,384 1535,388 1540,392"/><path d="M1495,430 C1502,448 1520,462 1540,470"/><path d="M1455,455 C1470,470 1500,472 1512,468"/><path d="M1445,378 C1460,372 1470,385 1462,395"/><path d="M1385,418 C1400,425 1420,428 1440,420"/><path d="M1480,460 C1490,476 1510,478 1525,470"/><path d="M1525,410 C1532,402 1540,400 1545,398"/></g>
<g stroke="#88D22C" stroke-width="15" stroke-dasharray="8 3.5"><path d="M1332,366 C1370,378 1410,392 1444,402 C1475,410 1500,412 1526,416"/><path d="M1429,309 L1458,352"/><path d="M1446,376 L1512,362"/><path d="M1466,389 L1512,375"/><path d="M1390,318 L1397,352"/><path d="M1372,395 L1389,409"/><path d="M1402,438 C1425,455 1450,468 1470,474"/><path d="M1438,438 L1469,459"/><path d="M1466,428 L1512,417"/><path d="M1524,419 C1534,440 1536,455 1536,468"/><path d="M1480,470 L1512,466"/></g>
<circle cx="1360" cy="348" r="10" stroke="#88D22C" stroke-width="6"/><circle cx="1433.5" cy="429.5" r="6" stroke="#88D22C" stroke-width="4"/>
<g stroke="#B03AC8" stroke-width="7"><path d="M1474,382 L1478,452"/><path d="M1486,385 L1490,455"/><path d="M1497,382 L1501,448"/><path d="M1508,386 L1510,440"/><path d="M1386,407 L1410,425"/><path d="M1412,408 L1466,422"/><path d="M1418,416 L1462,430"/><path d="M1398,332 L1412,352"/></g>
<path d="M1403,355 L1412,368 L1408,377" stroke="#E02020" stroke-width="6"/><path d="M1471,362 L1482,367" stroke="#E02020" stroke-width="5"/>
</g>
<rect x="1377" y="596.4" width="208.4" height="163.3" rx="14" fill="#D8E3CC" filter="url(#dsh)"/>
<g clip-path="url(#rc)">
<rect x="1378" y="598" width="206" height="161" fill="#F4EEE7"/>
<rect x="1378" y="660" width="30" height="52" fill="#EDE5DC"/>
<rect x="1500" y="598" width="84" height="25" fill="#DDE1E1"/><rect x="1481.3" y="598" width="20.5" height="36" fill="#FDFDFD"/>
<rect x="1570" y="598" width="14" height="80" fill="#E6E8E8"/>
<path d="M1440,630 L1481,615 L1481,640 L1440,650 Z" fill="#C8D2CE"/>
<path d="M1411,671 L1490,648 L1490,705 L1411,710 Z" fill="#26302F"/>
<path d="M1440,665 L1490,650 L1490,682 L1440,690 Z" fill="#6F8785"/>
<path d="M1490,640 L1571,612 L1571,668 L1490,668 Z" fill="#93B2C4"/>
<path d="M1555,662 L1578,662 L1580,730 L1555,730 Z" fill="#50697A"/>
<path d="M1410.8,662.2 L1570.2,604.8 L1571.2,624.3 L1410.8,670.9 Z" fill="#2E3044"/>
<g stroke="#222" stroke-width="1.8" fill="none"><path d="M1437,642 C1437,620 1446,612 1450,612 C1456,612 1459,622 1459,642"/><path d="M1442,640 L1442,622"/><path d="M1447,640 L1447,616"/><path d="M1453,640 L1453,619"/></g>
<path d="M1404,708 L1490,703 L1490,731 L1404,731 Z" fill="#4A4D52"/>
<path d="M1393.4,652 L1411.9,644 L1411.9,710 L1393.4,712 Z" fill="#2A2C33"/>
<rect x="1488.8" y="661" width="47" height="70" fill="#84878C"/>
<g stroke="#E2E4E6" stroke-width="1.6"><line x1="1490" y1="676" x2="1535" y2="674"/><line x1="1490" y1="683" x2="1535" y2="681"/><line x1="1490" y1="690" x2="1535" y2="688"/><line x1="1490" y1="697" x2="1535" y2="695"/><line x1="1490" y1="704" x2="1535" y2="702"/><line x1="1490" y1="711" x2="1535" y2="709"/><line x1="1490" y1="718" x2="1535" y2="716"/><line x1="1490" y1="725" x2="1535" y2="723"/></g>
<rect x="1535.5" y="663.3" width="21.6" height="70" fill="#D2D4D6"/>
<path d="M1378,729 L1584,731 L1584,751 L1378,751 Z" fill="#1F2027"/>
<rect x="1379.9" y="712" width="24.4" height="17.4" fill="#B5C5C5"/>
<path d="M1422,706 L1446.6,706 L1430,750 L1394.5,750 Z" fill="#CACACA"/>
<path d="M1449.8,712 L1487.8,712 L1487.8,725 L1449.8,725 Z" fill="#E6DEC8"/><path d="M1452,712 L1470,712 L1466,717 L1452,717 Z" fill="#3A7AA0"/>
<rect x="1378" y="750.5" width="206" height="9" fill="#C9AE98"/>
</g>
<ellipse cx="1945" cy="902.5" rx="355" ry="199.6" fill="url(#ell)" stroke="#666" stroke-width="2.6" filter="url(#shd)"/>
<g transform="translate(950,334)"><g fill="none" stroke="#999999" stroke-width="3"><path d="M829.4,605.5 L829.4,515 Q829.4,506 838,506 L849,506"/><path d="M788,605.5 L900,605.5 Q912,605.5 912.5,594"/><path d="M871,605.5 L871,648 Q871,672 840,675"/></g><path transform="translate(781.0,605.5) rotate(180.0)" d="M0,0 L-9,-5.5 L-9,5.5 Z" fill="#999999"/><path transform="translate(832.0,675.5) rotate(185.0)" d="M0,0 L-9,-5.5 L-9,5.5 Z" fill="#999999"/><g fill="none" stroke="#999999" stroke-width="6.5"><path d="M760.8,472.5 L775,472.5 Q786.8,472.5 786.8,490 L786.8,546"/><path d="M786.8,492 Q788,468 810.7,466"/></g><path transform="translate(786.8,555.0) rotate(90.0)" d="M0,0 L-12,-11.5 L-12,11.5 Z" fill="#999999"/><path transform="translate(832.0,462.0) rotate(0.00)" d="M0,-5.0 L8.0,-5.0 L8.0,-10.5 L15.0,0 L8.0,10.5 L8.0,5.0 L0,5.0 L3,0 Z" fill="#999999" /><path transform="translate(856.0,473.5) rotate(90.00)" d="M0,-5.75 L14.899999999999977,-5.75 L14.899999999999977,-12.0 L23.899999999999977,0 L14.899999999999977,12.0 L14.899999999999977,5.75 L0,5.75 L0,0 Z" fill="#999999" /><path transform="translate(862.0,487.0) rotate(0.00)" d="M0,-2.0 L8.0,-2.0 L8.0,-5.0 L14.0,0 L8.0,5.0 L8.0,2.0 L0,2.0 L0,0 Z" fill="#999999" /><rect x="850" y="512" width="11.6" height="22" fill="#999999"/><path d="M792,560 Q835,522 866,540" fill="none" stroke="#999999" stroke-width="11"/><path transform="translate(882.0,546.0) rotate(22.0)" d="M0,0 L-19,-12.5 L-19,12.5 Z" fill="#999999"/><g fill="none" stroke="#999999" stroke-width="5"><path d="M766,596 Q769,582 775,574"/><path d="M767,644 Q761,632 763,622"/><path d="M810,682 Q795,675 786,666"/><path d="M886,686 Q860,697 840,692"/></g><path transform="translate(781.0,567.0) rotate(-60.0)" d="M0,0 L-12,-8.0 L-12,8.0 Z" fill="#999999"/><path transform="translate(764.0,616.0) rotate(-90.0)" d="M0,0 L-12,-8.0 L-12,8.0 Z" fill="#999999"/><path transform="translate(780.0,661.0) rotate(-140.0)" d="M0,0 L-12,-8.0 L-12,8.0 Z" fill="#999999"/><path transform="translate(833.0,691.0) rotate(175.0)" d="M0,0 L-12,-8.0 L-12,8.0 Z" fill="#999999"/><path transform="translate(917.0,646.0) rotate(121.61)" d="M0,-4.5 L19.528675044947494,-4.5 L19.528675044947494,-10.0 L30.528675044947494,0 L19.528675044947494,10.0 L19.528675044947494,4.5 L0,4.5 L0,0 Z" fill="#999999" /><path d="M912,652 Q920,668 935,670" fill="none" stroke="#999999" stroke-width="4"/><path transform="translate(941.0,671.0) rotate(10.0)" d="M0,0 L-7,-5.0 L-7,5.0 Z" fill="#999999"/><path transform="translate(923.0,592.0) rotate(83.83)" d="M0,-5.0 L25.21558813185679,-5.0 L25.21558813185679,-12.5 L37.21558813185679,0 L25.21558813185679,12.5 L25.21558813185679,5.0 L0,5.0 L0,0 Z" fill="#999999" /><path d="M926,598 Q935,606 958,597" fill="none" stroke="#999999" stroke-width="4"/><path transform="translate(965.0,594.0) rotate(-20.0)" d="M0,0 L-8,-5.5 L-8,5.5 Z" fill="#999999"/><path transform="translate(896.0,553.0) rotate(46.33)" d="M0,-5.5 L18.4138126514911,-5.5 L18.4138126514911,-12.5 L30.4138126514911,0 L18.4138126514911,12.5 L18.4138126514911,5.5 L0,5.5 L0,0 Z" fill="#999999" /><path transform="translate(826.0,427.8) rotate(90.00)" d="M0,-11.0 L11.699999999999989,-11.0 L11.699999999999989,-22.5 L18.69999999999999,0 L11.699999999999989,22.5 L11.699999999999989,11.0 L0,11.0 L0,0 Z" fill="#999999" /></g>
<path d="M1820,834 L1850,834 L1850,829 L1862,839.7 L1850,850 L1850,845.5 L1820,845.5 Z" fill="#B4B4B4"/>
<circle cx="1873" cy="839.4" r="6.5" fill="#F4F4F4" stroke="#777" stroke-width="2.2"/>
<text x="1841.8" y="860.6" text-anchor="middle" font-family="Liberation Sans" font-size="53.5" fill="#003399">X</text>
<circle cx="1805.5" cy="793" r="7.9" fill="url(#mag)" filter="url(#dsh)"/>
<circle cx="1805.5" cy="837.7" r="7.9" fill="url(#mag)" filter="url(#dsh)"/>
<circle cx="1736.9" cy="898.4" r="7.9" fill="url(#mag)" filter="url(#dsh)"/>
<circle cx="1837.3" cy="883" r="7.9" fill="url(#mag)" filter="url(#dsh)"/>
<circle cx="1869.9" cy="919.2" r="7.9" fill="url(#mag)" filter="url(#dsh)"/>
<circle cx="1714.6" cy="940.6" r="7.9" fill="url(#mag)" filter="url(#dsh)"/>
<circle cx="1723.4" cy="989" r="7.9" fill="url(#mag)" filter="url(#dsh)"/>
<circle cx="1771.2" cy="1022.7" r="7.9" fill="url(#mag)" filter="url(#dsh)"/>
<circle cx="1842.9" cy="1011.9" r="7.9" fill="url(#mag)" filter="url(#dsh)"/>
<circle cx="1872" cy="972.4" r="7.9" fill="url(#mag)" filter="url(#dsh)"/>
<circle cx="1916.2" cy="1020" r="7.9" fill="url(#mag)" filter="url(#dsh)"/>
<circle cx="1651.6" cy="850.2" r="7.9" fill="url(#mag)" filter="url(#dsh)"/>
<circle cx="1640.2" cy="876.1" r="7.9" fill="url(#mag)" filter="url(#dsh)"/>
<circle cx="1664.7" cy="876.1" r="7.9" fill="url(#mag)" filter="url(#dsh)"/>
<defs><linearGradient id="pg" x1="0" y1="0" x2="1" y2="1"><stop offset="0" stop-color="#5E0A55"/><stop offset="1" stop-color="#9A0A88"/></linearGradient></defs>
<path transform="translate(1659.0,829.0) rotate(-135.64)" d="M0,-15.0 L38.93647591023825,-15.0 L38.93647591023825,-26.0 L62.93647591023825,0 L38.93647591023825,26.0 L38.93647591023825,15.0 L0,15.0 L0,0 Z" fill="url(#pg)" />
<path transform="translate(1578.0,838.0) rotate(45.00)" d="M0,-15.0 L35.39696961966999,-15.0 L35.39696961966999,-26.0 L59.39696961966999,0 L35.39696961966999,26.0 L35.39696961966999,15.0 L0,15.0 L0,0 Z" fill="url(#pg)" />
<g stroke="#F4E0F0" stroke-width="1.4"><line x1="1667.3" y1="816.2" x2="1646.4" y2="837.6"/><line x1="1664.8" y1="813.7" x2="1643.9" y2="835.2"/><line x1="1662.3" y1="811.3" x2="1641.4" y2="832.7"/><line x1="1569.5" y1="850.7" x2="1590.7" y2="829.5"/><line x1="1572.0" y1="853.2" x2="1593.2" y2="832.0"/><line x1="1574.5" y1="855.7" x2="1595.7" y2="834.5"/></g>
<path d="M1963,811 C1945,790 1960,760 1995,768 C2005,770 2012,776 2015,782" fill="none" stroke="#003399" stroke-width="5.5" stroke-dasharray="9 5"/>
<path d="M2028,787 L2008,775 L2020,767 Z" fill="#003399"/>
<defs><radialGradient id="nv" cx="0.4" cy="0.35" r="0.7"><stop offset="0" stop-color="#2A4A90"/><stop offset="1" stop-color="#061A4A"/></radialGradient></defs>
<ellipse cx="1974.4" cy="815.1" rx="7.3" ry="9" fill="url(#nv)" filter="url(#dsh)"/>
<ellipse cx="1962" cy="833.8" rx="7.3" ry="9" fill="url(#nv)" filter="url(#dsh)"/>
<ellipse cx="1980.6" cy="835.9" rx="7.3" ry="9" fill="url(#nv)" filter="url(#dsh)"/>
<g fill="none" stroke="#999" stroke-width="5.8"><line x1="2000" y1="827.6" x2="2140.7" y2="827.6"/><path d="M2022.2,827.6 L2022.2,798.5 L2058,798.5"/></g>
<path d="M2055.5,787.2 L2078.3,798.5 L2055.5,808.9 Z" fill="#999"/>
<defs><linearGradient id="gb" x1="0" y1="0" x2="0" y2="1"><stop offset="0" stop-color="#5A8AE0"/><stop offset="1" stop-color="#3A68C0"/></linearGradient></defs>
<path d="M2049.2,813.9 L2112,813.9 L2122,828 L2112,842.1 L2049.2,842.1 Z" fill="url(#gb)" filter="url(#dsh)"/>
<path d="M1948,992 L1977,962" stroke="#BDBDBD" stroke-width="8"/><path d="M1985,953 L1968,958 L1980,971 Z" fill="#BDBDBD"/>
<circle cx="1986.9" cy="950.2" r="6.5" fill="#F4F4F4" stroke="#777" stroke-width="2.2"/>
<g stroke="#003399" stroke-width="4.2"><line x1="1961" y1="952" x2="1981" y2="998"/><line x1="1947" y1="983" x2="1995" y2="975"/></g>
<path transform="translate(1858.0,1021.9) rotate(0.00)" d="M0,-5.5 L34.799999999999955,-5.5 L34.799999999999955,-11.5 L47.799999999999955,0 L34.799999999999955,11.5 L34.799999999999955,5.5 L0,5.5 L6,0 Z" fill="#7B1466" />
<path d="M1916,998 L1938,998 L1938,985.5 L1966,1021 L1938,1056.2 L1938,1044 L1916,1044 L1930,1021 Z" fill="#050505"/>
<path d="M1926,1012 L1944,1012 L1944,1004 L1958,1021 L1944,1037 L1944,1030 L1926,1030 L1933,1021 Z" fill="#7B1466"/>
<ellipse cx="1981" cy="1031.2" rx="15.6" ry="14.5" fill="url(#mag)" filter="url(#dsh)"/>
<path d="M1986.9,1000 L2034.7,1000 L2034.7,969 L2080.4,1025 L2034.7,1081 L2034.7,1050 L1986.9,1050 L2009.7,1025 Z" fill="#7B1466"/>
<g stroke="#222" stroke-width="2.1" fill="none"><polyline points="2085.3,1028.1 2124.3,1005.6 2164.5,1028.4 2203.8,1005.8"/><line x1="2089.1" y1="1035.2" x2="2124" y2="1015.5"/><line x1="2164.8" y1="1018.8" x2="2200.3" y2="998.5"/></g>
<rect x="64.5" y="1218.5" width="963.5" height="273.5" rx="16" fill="url(#box)" stroke="#505050" stroke-width="2" filter="url(#shd2)"/>
<rect x="134" y="1256" width="327" height="107.3" fill="#ED1C24"/>
<text x="214" y="1332.3" font-family="Liberation Sans" font-weight="bold" font-size="63" fill="#fff" textLength="218.6" lengthAdjust="spacingAndGlyphs">raskem</text>
<path d="M165,1287 L189,1287 C203,1287 208,1292 208,1299 C208,1304 205,1307.5 200.5,1309 C206,1310.5 210.5,1314 210.5,1320.5 C210.5,1328 204,1332.2 189,1332.2 L166,1332.2 L181,1309.5 Z M176.3,1291.6 L188,1291.6 C194.5,1291.6 197,1295 197,1299.5 C197,1304.5 194,1307.3 188,1307.3 L181,1307.3 L176.3,1300 Z M181,1311.5 L189,1311.5 C196,1311.5 199,1314.5 199,1319 C199,1324 196,1326.6 189,1326.6 L176.3,1326.6 L176.3,1318 Z" fill="#fff" fill-rule="evenodd"/>
<path d="M162,1290.5 L177,1309.3 L162,1328.5 Z" fill="#fff"/>
<rect x="510.5" y="1250" width="3.6" height="206.4" fill="#000"/>
<path d="M147.2,1386.5 L166.7,1397.8 L166.7,1420.2 L147.2,1431.5 L127.7,1420.2 L127.7,1397.8 Z" fill="none" stroke="#A2228F" stroke-width="4.6"/>
<path d="M170.2,1386.5 L189.7,1397.8 L189.7,1420.2 L170.2,1431.5 L150.7,1420.2 L150.7,1397.8 Z" fill="none" stroke="#ABABAB" stroke-width="4.6"/>
<path d="M159.3,1406.2 L179.2,1417.7 L179.2,1440.7 L159.3,1452.2 L139.4,1440.7 L139.4,1417.7 Z" fill="none" stroke="#6F2C9A" stroke-width="4.6"/>
<text x="202" y="1428.5" font-family="Liberation Sans" font-weight="bold" font-size="45" fill="#000" textLength="263" lengthAdjust="spacingAndGlyphs">genomatica</text>
<text x="317" y="1445.5" font-family="Liberation Sans" font-size="13" fill="#777" textLength="148" lengthAdjust="spacingAndGlyphs">sustainable chemicals</text>
<g stroke="#000" stroke-width="3.4" fill="#000">
<line x1="352.6" y1="254" x2="468.7" y2="196.7"/><circle cx="352.6" cy="254" r="9" stroke="none"/>
<line x1="719.7" y1="567.4" x2="575.5" y2="971.5"/><circle cx="719.7" cy="567.4" r="9" stroke="none"/>
<line x1="1051.3" y1="729" x2="1131.8" y2="839.7"/><circle cx="1051.3" cy="729" r="9" stroke="none"/>
<line x1="1801.6" y1="398" x2="1876" y2="269"/><circle cx="1801.6" cy="398" r="9" stroke="none"/>
<line x1="1928.7" y1="1079" x2="1822.7" y2="1149.8"/><circle cx="1928.7" cy="1079" r="9" stroke="none"/>
</g>
<path transform="translate(280,50) scale(0.2305)" d="M228,55 L345,55 L345,535 L203,535 L203,240 C160,268 115,288 68,298 L68,180 C150,155 205,115 228,55 Z" fill="#1E8CFF" fill-rule="evenodd"/>
<path transform="translate(330,960) scale(0.2557)" d="M78,218 C78,120 150,75 250,75 C360,75 425,130 425,210 C425,280 370,320 330,350 L262,400 L427,400 L427,508 L68,508 C75,430 130,370 230,300 C280,262 300,245 300,210 C300,180 285,165 262,165 C235,165 212,180 205,230 Z" fill="#1E8CFF" fill-rule="evenodd"/>
<path transform="translate(930,830) scale(0.2431)" d="M88,215 C110,130 180,90 270,90 C370,90 435,140 435,210 C435,255 415,285 380,300 C430,320 458,360 458,410 C458,490 380,552 268,552 C160,552 95,500 82,418 L218,400 C222,440 240,465 270,465 C305,465 325,440 325,405 C325,370 305,355 265,355 L225,355 L225,258 L250,258 C285,258 298,240 298,220 C298,195 285,180 262,180 C238,180 222,200 215,238 Z" fill="#1E8CFF" fill-rule="evenodd"/>
<path transform="translate(1650,110) scale(0.2598)" d="M300,73 L408,73 L408,323 L458,323 L458,423 L408,423 L408,498 L295,498 L295,423 L90,423 L90,320 Z M208,323 L295,323 L295,225 Z" fill="#1E8CFF" fill-rule="evenodd"/>
<path transform="translate(1600,1160) scale(0.3185)" d="M95,75 L330,75 L330,160 L180,160 L172,215 C195,195 220,188 245,188 C310,188 350,240 350,305 C350,375 290,425 205,425 C120,425 65,380 58,320 L163,312 C168,338 185,355 205,355 C232,355 248,333 248,305 C248,275 232,255 205,255 C185,255 172,265 165,275 L70,265 Z" fill="#1E8CFF" fill-rule="evenodd"/>
<text x="392.5" y="92.3" class="tx">60 of the best biological</text>
<text x="392.5" y="139" class="tx">pathways evaluated for</text>
<text x="392.5" y="186.3" class="tx">production of butadiene</text>
<text x="462.5" y="1013.5" class="tx">The five best were</text>
<text x="462.5" y="1060" class="tx">selected for lab evaluation</text>
<text x="1064.5" y="883.3" class="tx">Best pathway chosen for</text>
<text x="1064.5" y="930.2" class="tx">optimization based on</text>
<text x="1064.5" y="977.5" class="tx">small-scale fermentation</text>
<text x="1064.5" y="1025.5" class="tx">performance</text>
<text x="1791.7" y="159" class="tx">High-throughput screening</text>
<text x="1791.7" y="205.7" class="tx">and enzyme engineering</text>
<text x="1791.7" y="252.8" class="tx">delivered &gt;60X activity</text>
<text x="1732.6" y="1212" class="tx">Butadiene produced from multiple</text>
<text x="1732.6" y="1258.5" class="tx">successful lab-scale fermentations</text>
<text x="1732.6" y="1305.3" class="tx">using engineered strains</text>
<text x="554" y="1307.5" class="tt">direct biological</text>
<text x="554" y="1374" class="tt">production</text>
<text x="554" y="1441.5" class="tt">of butadiene</text>
</svg>
</body></html>
